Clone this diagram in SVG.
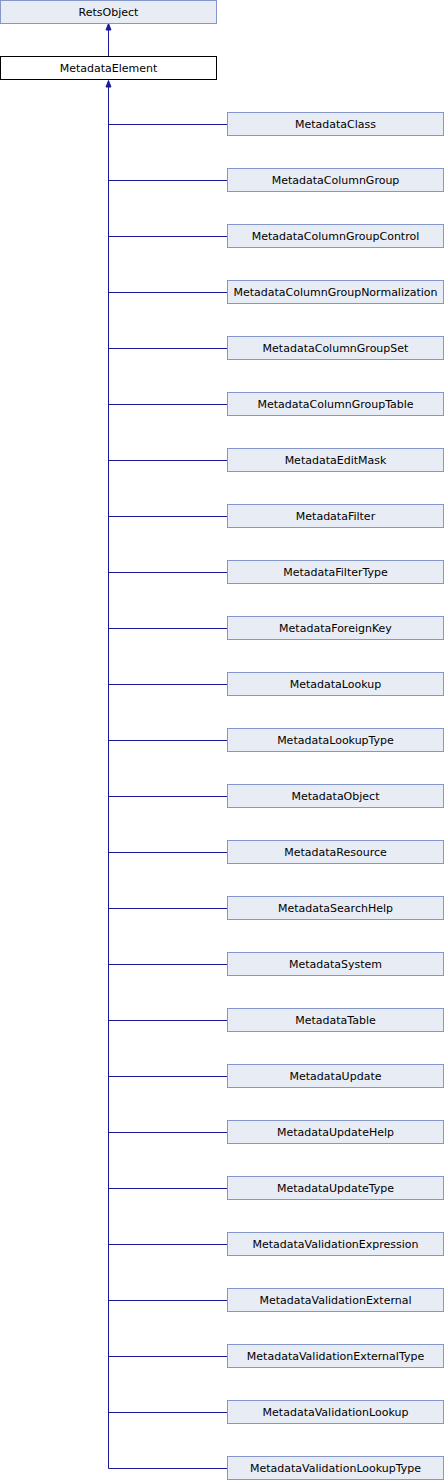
<svg xmlns="http://www.w3.org/2000/svg" width="444" height="1480" viewBox="0 0 444 1480">
<style>
.n rect{fill:#e8ecf5;stroke:#8497c8;stroke-width:1}
.n.w rect{fill:#ffffff;stroke:#000000}
text{font-family:"DejaVu Sans",Verdana,sans-serif;font-size:11px;text-anchor:middle;fill:#000}
.e{stroke:#1a1a9a;stroke-width:1;fill:none}
.ah{fill:#1a1a9a;stroke:#1a1a9a}
</style>
<g id="edges">
<path class="e" d="M108.5,56 V24"/>
<path class="ah" d="M108.5,23.5 L111,30 L106,30 Z"/>
<path class="e" d="M108.5,1468.5 V81"/>
<path class="ah" d="M108.5,80.5 L111,87 L106,87 Z"/>
<path class="e" d="M108.5,124.5H227.5 M108.5,180.5H227.5 M108.5,236.5H227.5 M108.5,292.5H227.5 M108.5,348.5H227.5 M108.5,404.5H227.5 M108.5,460.5H227.5 M108.5,516.5H227.5 M108.5,572.5H227.5 M108.5,628.5H227.5 M108.5,684.5H227.5 M108.5,740.5H227.5 M108.5,796.5H227.5 M108.5,852.5H227.5 M108.5,908.5H227.5 M108.5,964.5H227.5 M108.5,1020.5H227.5 M108.5,1076.5H227.5 M108.5,1132.5H227.5 M108.5,1188.5H227.5 M108.5,1244.5H227.5 M108.5,1300.5H227.5 M108.5,1356.5H227.5 M108.5,1412.5H227.5 M108.5,1468.5H227.5"/>
</g>
<g id="RetsObject" class="n"><rect x="0.5" y="0.5" width="216" height="23"/><text x="108.5" y="16">RetsObject</text></g>
<g id="MetadataElement" class="n w"><rect x="0.5" y="56.5" width="216" height="23"/><text x="108.5" y="72">MetadataElement</text></g>
<g id="MetadataClass" class="n"><rect x="227.5" y="112.5" width="216" height="23"/><text x="335.5" y="128">MetadataClass</text></g>
<g id="MetadataColumnGroup" class="n"><rect x="227.5" y="168.5" width="216" height="23"/><text x="335.5" y="184">MetadataColumnGroup</text></g>
<g id="MetadataColumnGroupControl" class="n"><rect x="227.5" y="224.5" width="216" height="23"/><text x="335.5" y="240">MetadataColumnGroupControl</text></g>
<g id="MetadataColumnGroupNormalization" class="n"><rect x="227.5" y="280.5" width="216" height="23"/><text x="335.5" y="296">MetadataColumnGroupNormalization</text></g>
<g id="MetadataColumnGroupSet" class="n"><rect x="227.5" y="336.5" width="216" height="23"/><text x="335.5" y="352">MetadataColumnGroupSet</text></g>
<g id="MetadataColumnGroupTable" class="n"><rect x="227.5" y="392.5" width="216" height="23"/><text x="335.5" y="408">MetadataColumnGroupTable</text></g>
<g id="MetadataEditMask" class="n"><rect x="227.5" y="448.5" width="216" height="23"/><text x="335.5" y="464">MetadataEditMask</text></g>
<g id="MetadataFilter" class="n"><rect x="227.5" y="504.5" width="216" height="23"/><text x="335.5" y="520">MetadataFilter</text></g>
<g id="MetadataFilterType" class="n"><rect x="227.5" y="560.5" width="216" height="23"/><text x="335.5" y="576">MetadataFilterType</text></g>
<g id="MetadataForeignKey" class="n"><rect x="227.5" y="616.5" width="216" height="23"/><text x="335.5" y="632">MetadataForeignKey</text></g>
<g id="MetadataLookup" class="n"><rect x="227.5" y="672.5" width="216" height="23"/><text x="335.5" y="688">MetadataLookup</text></g>
<g id="MetadataLookupType" class="n"><rect x="227.5" y="728.5" width="216" height="23"/><text x="335.5" y="744">MetadataLookupType</text></g>
<g id="MetadataObject" class="n"><rect x="227.5" y="784.5" width="216" height="23"/><text x="335.5" y="800">MetadataObject</text></g>
<g id="MetadataResource" class="n"><rect x="227.5" y="840.5" width="216" height="23"/><text x="335.5" y="856">MetadataResource</text></g>
<g id="MetadataSearchHelp" class="n"><rect x="227.5" y="896.5" width="216" height="23"/><text x="335.5" y="912">MetadataSearchHelp</text></g>
<g id="MetadataSystem" class="n"><rect x="227.5" y="952.5" width="216" height="23"/><text x="335.5" y="968">MetadataSystem</text></g>
<g id="MetadataTable" class="n"><rect x="227.5" y="1008.5" width="216" height="23"/><text x="335.5" y="1024">MetadataTable</text></g>
<g id="MetadataUpdate" class="n"><rect x="227.5" y="1064.5" width="216" height="23"/><text x="335.5" y="1080">MetadataUpdate</text></g>
<g id="MetadataUpdateHelp" class="n"><rect x="227.5" y="1120.5" width="216" height="23"/><text x="335.5" y="1136">MetadataUpdateHelp</text></g>
<g id="MetadataUpdateType" class="n"><rect x="227.5" y="1176.5" width="216" height="23"/><text x="335.5" y="1192">MetadataUpdateType</text></g>
<g id="MetadataValidationExpression" class="n"><rect x="227.5" y="1232.5" width="216" height="23"/><text x="335.5" y="1248">MetadataValidationExpression</text></g>
<g id="MetadataValidationExternal" class="n"><rect x="227.5" y="1288.5" width="216" height="23"/><text x="335.5" y="1304">MetadataValidationExternal</text></g>
<g id="MetadataValidationExternalType" class="n"><rect x="227.5" y="1344.5" width="216" height="23"/><text x="335.5" y="1360">MetadataValidationExternalType</text></g>
<g id="MetadataValidationLookup" class="n"><rect x="227.5" y="1400.5" width="216" height="23"/><text x="335.5" y="1416">MetadataValidationLookup</text></g>
<g id="MetadataValidationLookupType" class="n"><rect x="227.5" y="1456.5" width="216" height="23"/><text x="335.5" y="1472">MetadataValidationLookupType</text></g>
</svg>
